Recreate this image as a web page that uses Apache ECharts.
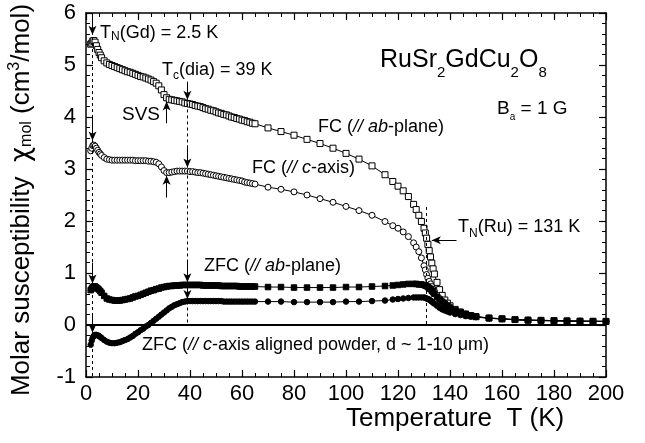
<!DOCTYPE html>
<html>
<head>
<meta charset="utf-8">
<script src="https://cdn.jsdelivr.net/npm/echarts/dist/echarts.min.js"></script>
<style>
  html, body { margin: 0; padding: 0; background: #fff; }
  #chart { width: 645px; height: 443px; }
</style>
</head>
<body>
<div id="chart"></div>
<script>
// Temperature points (K), shared by all four susceptibility curves
const temperature = [
  1.8, 2.2, 2.6, 3, 3.5, 4, 4.5, 5, 5.5, 6,
  7, 8, 9, 10, 11, 12, 13, 14, 15, 16,
  17, 18, 19, 20, 21, 22, 23, 24, 25, 26,
  27, 28, 29, 30, 31, 32, 33, 34, 35, 36,
  37, 38, 39, 40, 41, 42, 43, 44, 45, 46,
  47, 48, 49, 50, 51, 52, 53, 54, 55, 56,
  57, 58, 59, 60, 61, 62, 63, 64, 65,
  70, 75, 80, 85, 90, 95, 100, 105, 110, 115,
  118, 120, 122, 124, 126, 127, 128, 129, 130,
  130.5, 131, 131.5, 132, 132.5, 133, 133.5, 134,
  135, 136, 137, 138, 139, 140,
  142, 144, 146, 148, 150,
  155, 160, 165, 170, 175, 180, 185, 190, 195, 200
];

// Field-cooled, field in the ab-plane (cm^3/mol)
const fcAbPlane = [
  5.40, 5.42, 5.46, 5.47, 5.44, 5.37, 5.30, 5.24, 5.19, 5.14,
  5.08, 5.04, 5.01, 4.99, 4.97, 4.95, 4.93, 4.91, 4.89, 4.87,
  4.86, 4.84, 4.82, 4.80, 4.78, 4.77, 4.75, 4.73, 4.71, 4.68,
  4.65, 4.60, 4.52, 4.43, 4.37, 4.34, 4.33, 4.32, 4.31, 4.30,
  4.29, 4.27, 4.26, 4.25, 4.24, 4.22, 4.21, 4.20, 4.18, 4.16,
  4.15, 4.13, 4.12, 4.10, 4.08, 4.07, 4.05, 4.04, 4.02, 4.00,
  3.99, 3.97, 3.96, 3.94, 3.93, 3.91, 3.90, 3.88, 3.87,
  3.79, 3.72, 3.65, 3.57, 3.49, 3.40, 3.30, 3.19, 3.06, 2.89,
  2.76, 2.67, 2.58, 2.47, 2.32, 2.22, 2.11, 1.99, 1.86,
  1.77, 1.67, 1.55, 1.43, 1.31, 1.19, 1.08, 0.98,
  0.82, 0.68, 0.57, 0.48, 0.42, 0.37,
  0.30, 0.25, 0.21, 0.18, 0.16,
  0.135, 0.12, 0.105, 0.095, 0.09, 0.085, 0.08, 0.075, 0.072, 0.07
];

// Field-cooled, field along the c-axis
const fcCAxis = [
  3.35, 3.40, 3.45, 3.46, 3.44, 3.40, 3.36, 3.32, 3.29, 3.26,
  3.22, 3.19, 3.18, 3.17, 3.17, 3.17, 3.17, 3.17, 3.17, 3.17,
  3.17, 3.17, 3.16, 3.16, 3.16, 3.16, 3.16, 3.15, 3.15, 3.14,
  3.13, 3.10, 3.04, 2.97, 2.93, 2.93, 2.94, 2.95, 2.96, 2.96,
  2.96, 2.96, 2.96, 2.95, 2.95, 2.94, 2.93, 2.93, 2.92, 2.91,
  2.90, 2.89, 2.88, 2.87, 2.86, 2.85, 2.84, 2.83, 2.82, 2.81,
  2.80, 2.79, 2.78, 2.77, 2.75, 2.74, 2.73, 2.72, 2.71,
  2.65, 2.61, 2.56, 2.50, 2.43, 2.36, 2.28, 2.20, 2.11, 1.99,
  1.91, 1.86, 1.79, 1.70, 1.58, 1.50, 1.41, 1.29, 1.14,
  1.06, 0.97, 0.90, 0.84, 0.79, 0.74, 0.69, 0.65,
  0.57, 0.51, 0.46, 0.42, 0.38, 0.35,
  0.29, 0.25, 0.21, 0.18, 0.16,
  0.135, 0.12, 0.105, 0.095, 0.09, 0.085, 0.08, 0.075, 0.072, 0.07
];

// Zero-field-cooled, field in the ab-plane
const zfcAbPlane = [
  0.67, 0.70, 0.73, 0.74, 0.74, 0.72, 0.70, 0.68, 0.65, 0.62,
  0.56, 0.51, 0.49, 0.48, 0.47, 0.47, 0.47, 0.48, 0.49, 0.50,
  0.51, 0.53, 0.55, 0.56, 0.58, 0.60, 0.62, 0.64, 0.66, 0.67,
  0.69, 0.70, 0.72, 0.73, 0.74, 0.75, 0.75, 0.76, 0.76, 0.76,
  0.77, 0.77, 0.77, 0.77, 0.77, 0.77, 0.77, 0.77, 0.76, 0.76,
  0.76, 0.76, 0.76, 0.76, 0.76, 0.75, 0.75, 0.75, 0.75, 0.75,
  0.75, 0.75, 0.74, 0.74, 0.74, 0.74, 0.74, 0.74, 0.74,
  0.73, 0.73, 0.72, 0.72, 0.72, 0.72, 0.73, 0.73, 0.74, 0.75,
  0.76, 0.77, 0.78, 0.79, 0.79, 0.79, 0.78, 0.78, 0.77,
  0.76, 0.75, 0.73, 0.71, 0.69, 0.66, 0.63, 0.60,
  0.54, 0.49, 0.44, 0.40, 0.36, 0.33,
  0.28, 0.24, 0.21, 0.18, 0.16,
  0.13, 0.115, 0.10, 0.09, 0.085, 0.08, 0.075, 0.072, 0.07, 0.068
];

// Zero-field-cooled, c-axis aligned powder
const zfcCAxis = [
  -0.38, -0.30, -0.24, -0.21, -0.19, -0.19, -0.20, -0.21, -0.23, -0.25,
  -0.29, -0.32, -0.34, -0.35, -0.35, -0.34, -0.33, -0.31, -0.29, -0.27,
  -0.24, -0.21, -0.17, -0.14, -0.10, -0.07, -0.03, 0.00, 0.04, 0.08,
  0.12, 0.16, 0.20, 0.24, 0.28, 0.32, 0.35, 0.38, 0.40, 0.42,
  0.44, 0.45, 0.46, 0.46, 0.46, 0.46, 0.46, 0.46, 0.46, 0.46,
  0.46, 0.46, 0.46, 0.46, 0.46, 0.46, 0.45, 0.45, 0.45, 0.45,
  0.45, 0.45, 0.45, 0.45, 0.45, 0.45, 0.45, 0.45, 0.45,
  0.45, 0.45, 0.44, 0.44, 0.44, 0.44, 0.45, 0.45, 0.46, 0.47,
  0.49, 0.50, 0.51, 0.52, 0.53, 0.53, 0.53, 0.53, 0.53,
  0.52, 0.51, 0.50, 0.49, 0.47, 0.45, 0.43, 0.41,
  0.37, 0.33, 0.30, 0.28, 0.26, 0.24,
  0.21, 0.19, 0.17, 0.16, 0.15,
  0.13, 0.115, 0.10, 0.09, 0.085, 0.08, 0.075, 0.072, 0.07, 0.068
];

const FONT = 'Liberation Sans';

function makeSeries(name, values, symbol, filled, size) {
  return {
    name: name,
    type: 'line',
    data: temperature.map((t, i) => [t, values[i]]),
    symbol: symbol,
    symbolSize: size,
    showSymbol: true,
    showAllSymbol: true,
    lineStyle: { color: '#000', width: 1 },
    itemStyle: { color: filled ? '#000' : '#fff', borderColor: '#000', borderWidth: 1 },
    emphasis: { disabled: true },
    animation: false,
    silent: true,
    z: 3
  };
}

// rich-text styles: base, italic, greek, subscript and superscript
function richSet(size, subSize, subDrop, supRaise) {
  return {
    n: { fontSize: size, fontFamily: FONT, fill: '#000' },
    i: { fontSize: size, fontFamily: FONT, fontStyle: 'italic', fill: '#000' },
    g: { fontSize: size, fontFamily: 'DejaVu Sans', fill: '#000' },
    sub: { fontSize: subSize, fontFamily: FONT, fill: '#000', padding: [subDrop * 2, 0, 0, 0] },
    sup: { fontSize: subSize, fontFamily: FONT, fill: '#000', padding: [0, 0, (supRaise || 0) * 2, 0] }
  };
}

function label(x, y, text, rich, rotation) {
  return {
    type: 'text',
    x: x, y: y,
    rotation: rotation || 0,
    silent: true,
    z: 10,
    style: { text: text, rich: rich, align: rotation ? 'center' : 'left', verticalAlign: 'middle', fill: '#000' }
  };
}

const arrowStyle = { color: '#000', width: 1, type: 'solid' };
function arrow(from, to) {
  return [{ coord: from }, { coord: to }];
}

const axisCommon = {
  type: 'value',
  axisLine: { show: true, onZero: false, lineStyle: { color: '#000', width: 1.5 } },
  splitLine: { show: false }
};

const chart = echarts.init(document.getElementById('chart'), null, { renderer: 'canvas' });

const fcAb = makeSeries('FC ab', fcAbPlane, 'rect', false, 6);
const fcC = makeSeries('FC c', fcCAxis, 'circle', false, 6);
const zfcAb = makeSeries('ZFC ab', zfcAbPlane, 'rect', true, 5.5);
const zfcC = makeSeries('ZFC c', zfcCAxis, 'circle', true, 5.5);

// dashed markers at the transition temperatures
fcAb.markLine = {
  silent: true, symbol: ['none', 'none'], label: { show: false }, animation: false,
  lineStyle: { color: '#000', width: 1, type: [3, 3] },
  data: [
    arrow([2.5, 6], [2.5, -1]),
    arrow([39, 4.26], [39, 0]),
    arrow([131, 2.27], [131, 0])
  ]
};

// arrows marking T_N(Gd), T_c(dia), SVS and T_N(Ru)
fcC.markLine = {
  silent: true, symbol: ['none', 'arrow'], symbolSize: [6, 9], label: { show: false }, animation: false,
  lineStyle: arrowStyle,
  data: [
    arrow([2.5, 6.0], [2.5, 5.58]),
    arrow([2.5, 4.0], [2.5, 3.55]),
    arrow([2.5, 1.2], [2.5, 0.8]),
    arrow([2.5, 0.2], [2.5, -0.15]),
    arrow([39, 4.68], [39, 4.33]),
    arrow([39, 3.45], [39, 3.03]),
    arrow([39, 1.25], [39, 0.82]),
    arrow([39, 0.72], [39, 0.5]),
    arrow([31, 3.88], [31, 4.3]),
    arrow([31, 2.45], [31, 2.87]),
    arrow([142.5, 1.63], [133, 1.63])
  ]
};

// zero baseline
zfcC.markLine = {
  silent: true, symbol: ['none', 'none'], label: { show: false }, animation: false,
  lineStyle: { color: '#000', width: 2, type: 'solid' },
  data: [{ yAxis: 0 }]
};

const r18 = richSet(18, 12, 4, 0);

chart.setOption({
  animation: false,
  backgroundColor: '#fff',
  grid: { left: 86, right: 39, top: 13, bottom: 66, containLabel: false },
  xAxis: [
    Object.assign({}, axisCommon, {
      min: 0, max: 200, interval: 20, position: 'bottom',
      axisTick: { show: true, inside: true, length: 7, lineStyle: { color: '#000', width: 1.2 } },
      minorTick: { show: true, splitNumber: 4, length: 4, lineStyle: { color: '#000', width: 1 } },
      axisLabel: { fontSize: 22, color: '#000', fontFamily: FONT, margin: 6 }
    }),
    Object.assign({}, axisCommon, {
      min: 0, max: 200, interval: 20, position: 'top',
      axisTick: { show: true, inside: true, length: 7, lineStyle: { color: '#000', width: 1.2 } },
      minorTick: { show: true, splitNumber: 4, length: 4, lineStyle: { color: '#000', width: 1 } },
      axisLabel: { show: false }
    })
  ],
  yAxis: [
    Object.assign({}, axisCommon, {
      min: -1, max: 6, interval: 1, position: 'left',
      axisTick: { show: true, inside: true, length: 7, lineStyle: { color: '#000', width: 1.2 } },
      minorTick: { show: true, splitNumber: 5, length: 4, lineStyle: { color: '#000', width: 1 } },
      axisLabel: { fontSize: 22, color: '#000', fontFamily: FONT, margin: 10 }
    }),
    Object.assign({}, axisCommon, {
      min: -1, max: 6, interval: 1, position: 'right',
      axisTick: { show: true, inside: true, length: 7, lineStyle: { color: '#000', width: 1.2 } },
      minorTick: { show: true, splitNumber: 5, length: 4, lineStyle: { color: '#000', width: 1 } },
      axisLabel: { show: false }
    })
  ],
  series: [fcAb, fcC, zfcAb, zfcC],
  graphic: [
    label(346, 419, '{n|Temperature  T (K)}', richSet(26, 16, 0, 0)),
    label(22, 200, '{n|Molar susceptibility  }{g|χ}{sub|mol}{n| (cm}{sup|3}{n|/mol)}', richSet(26, 16, 5, 7), Math.PI / 2),
    label(100, 33, '{n|T}{sub|N}{n|(Gd) = 2.5 K}', richSet(18, 12, 4, 0)),
    label(162, 70, '{n|T}{sub|c}{n|(dia) = 39 K}', richSet(18, 12, 6, 0)),
    label(122, 115, '{n|SVS}', richSet(19, 12, 0, 0)),
    label(380, 60, '{n|RuSr}{sub|2}{n|GdCu}{sub|2}{n|O}{sub|8}', richSet(25, 15, 13, 0)),
    label(497, 109, '{n|B}{sub|a}{n| = 1 G}', richSet(19, 10, 8, 0)),
    label(318, 127, '{n|FC (}{i|//}{n| }{i|ab}{n|-plane)}', r18),
    label(252, 168, '{n|FC (}{i|//}{n| }{i|c}{n|-axis)}', r18),
    label(458, 227, '{n|T}{sub|N}{n|(Ru) = 131 K}', richSet(18, 12, 7, 0)),
    label(204, 266, '{n|ZFC (}{i|//}{n| }{i|ab}{n|-plane)}', r18),
    label(142, 345, '{n|ZFC (}{i|//}{n| }{i|c}{n|-axis aligned powder, d ~ 1-10 μm)}', r18)
  ]
});
</script>
</body>
</html>
